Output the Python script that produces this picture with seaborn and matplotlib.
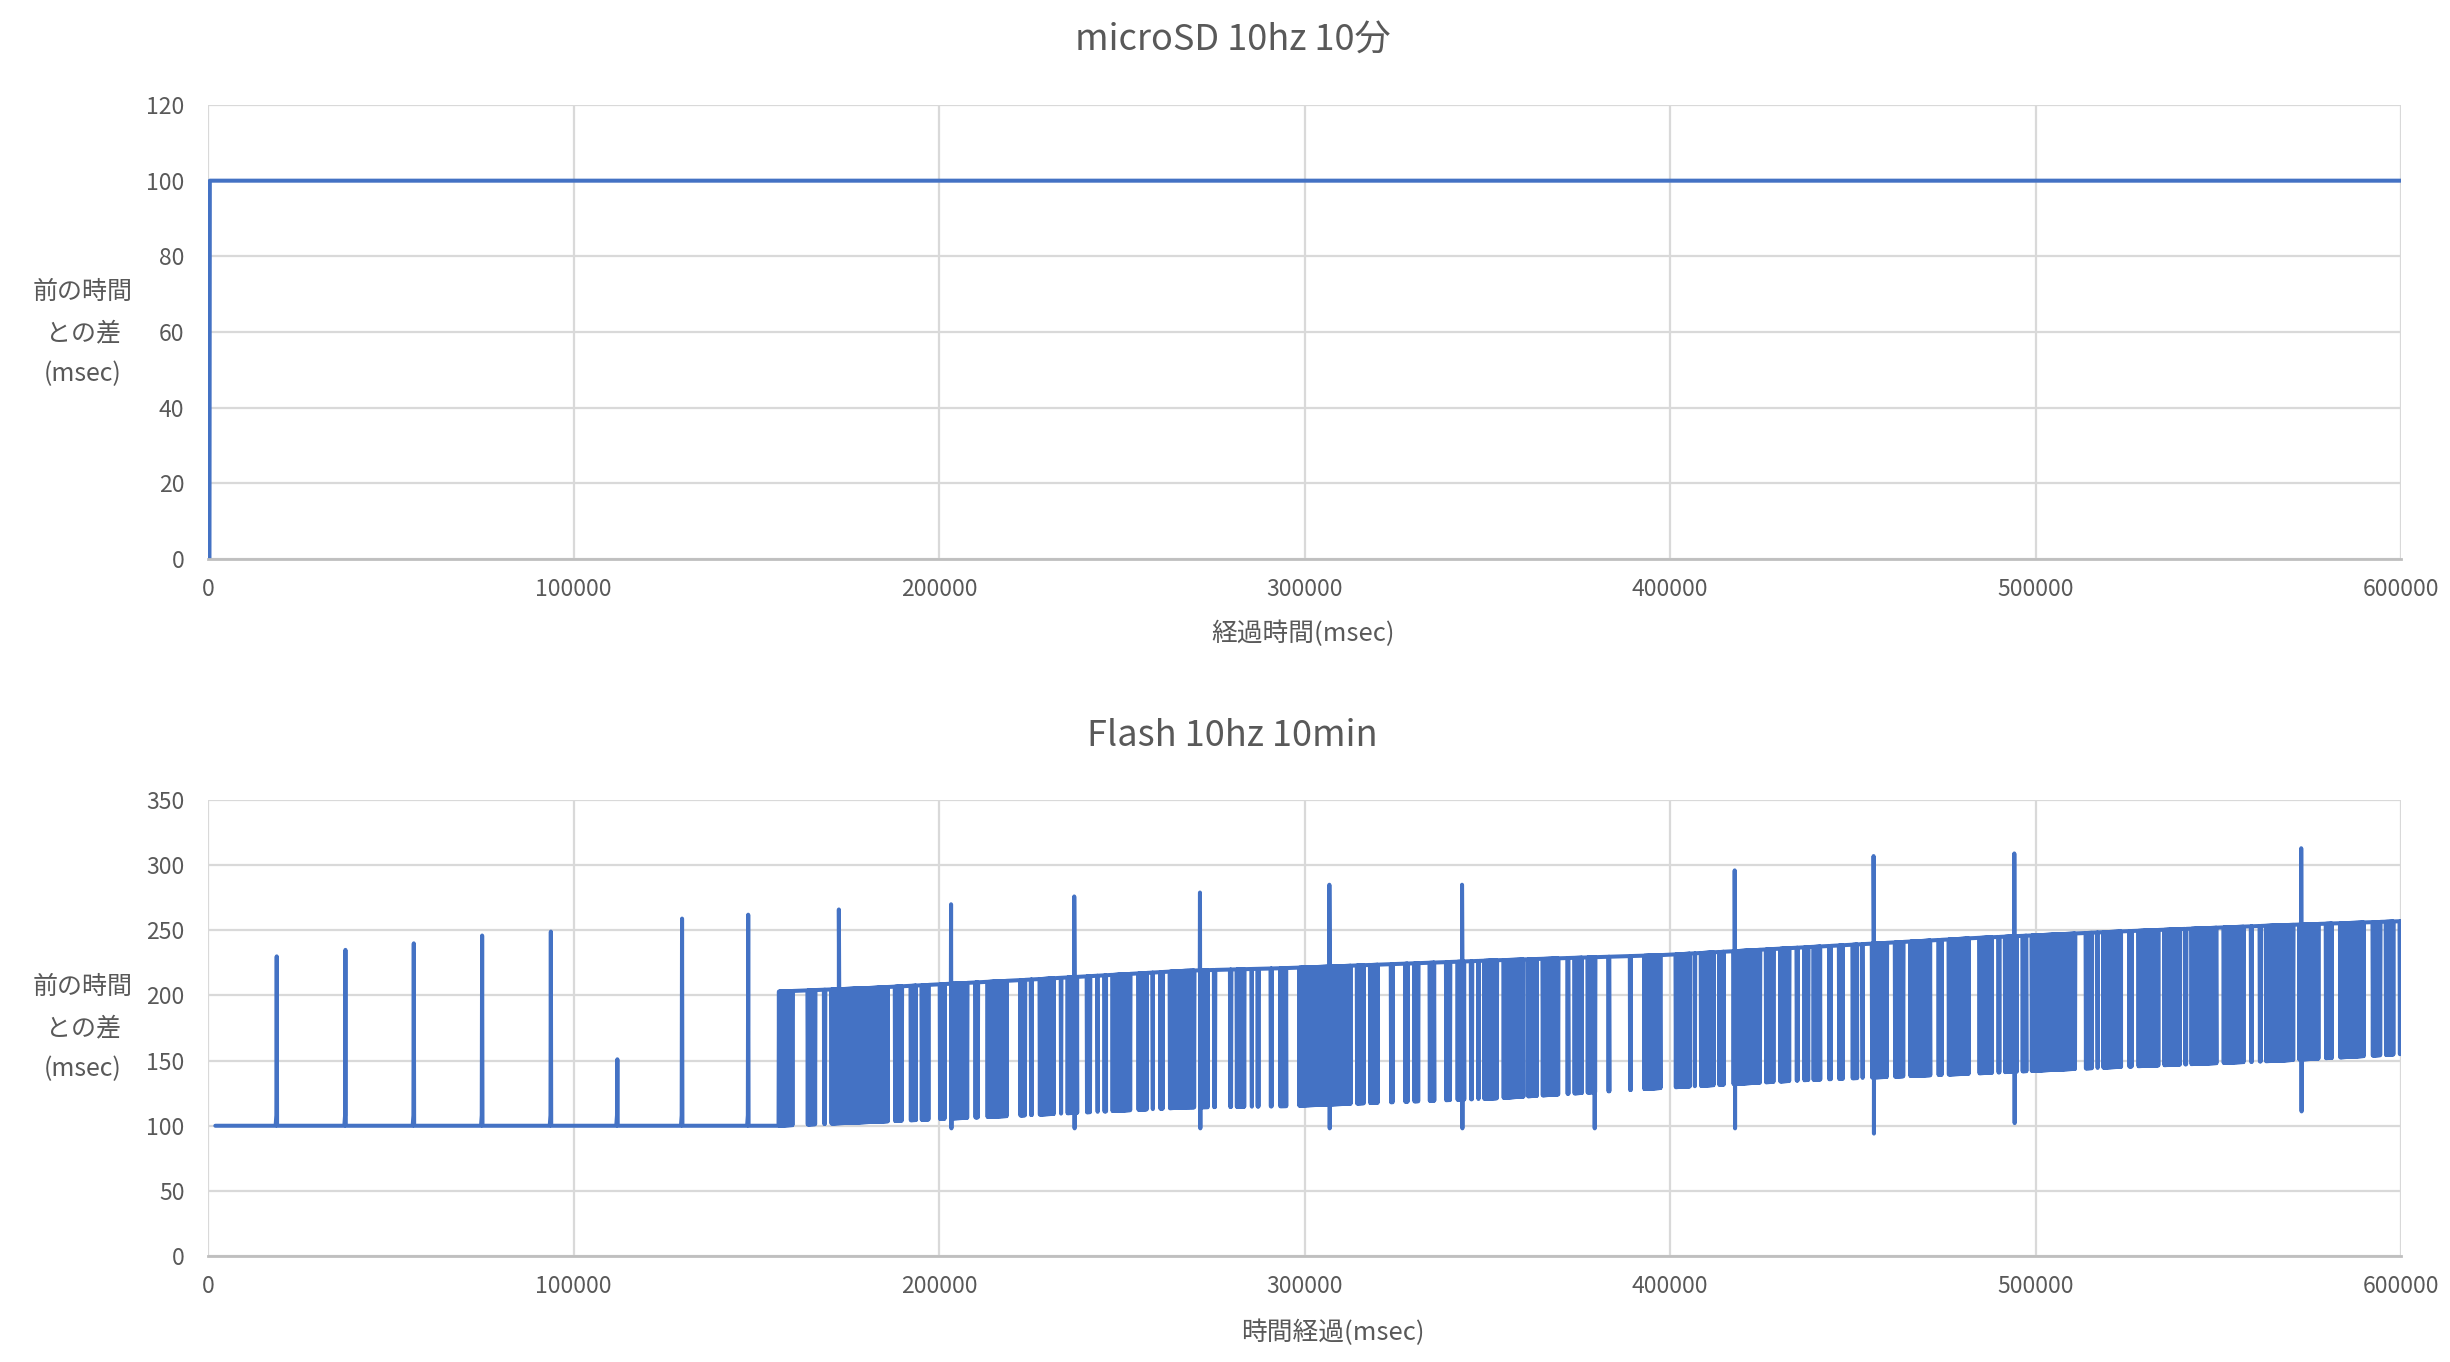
import numpy as np
import pandas as pd
import matplotlib
matplotlib.use("Agg")
import matplotlib.pyplot as plt
import seaborn as sns

# ---- microSD 10hz 10分 ----
sd_x = [400, 500, 599900]
sd_y = [0, 100, 100]

# ---- Flash 10hz 10min ----
# before ~156 s: flat 100 ms with a periodic spike
base_start = 2000
base_end = 156100
base_level = 100
early_spike_x = [18800, 37600, 56300, 75000, 93800, 112000, 129700, 147800]
early_spike_y = [230, 235, 240, 246, 249, 151, 259, 262]

# after ~156 s: the interval keeps flipping between an upper and a lower level
env_x = [156000, 182600, 223700, 267400, 294800, 352200, 397900, 437100, 482700, 521900, 567500, 600000]
env_hi = [203, 206, 212, 219, 221, 227, 231, 237, 244, 249, 254, 257]
env_lo = [100, 103, 108, 114, 115, 121, 129, 135, 140, 145, 150, 155]

# stretches where it flips (between them it stays on the upper level)
block_start = [156200, 163500, 168000, 170000, 187400, 191700, 194700, 199700, 203100, 209400,
               212700, 221700, 224600, 227000, 232800, 234600, 239900, 242800, 244700, 246900,
               254000, 257900, 260000, 262600, 271100, 274700, 279100, 280900, 285000, 286600,
               290200, 292800, 298000, 313800, 317400, 323100, 327000, 329500, 333700, 338200,
               341300, 345000, 347000, 348600, 353900, 360600, 364600, 371400, 373300, 376900,
               382600, 388500, 392400, 401000, 406200, 407900, 412900, 416800, 425700, 429600,
               434100, 436200, 438700, 443000, 445700, 449400, 452100, 454700, 461000, 465200,
               472900, 475700, 484100, 489300, 491100, 495900, 498400, 513200, 516400, 518000,
               525100, 527600, 534700, 540400, 542100, 550900, 558400, 560800, 562500, 571600,
               578900, 582800, 591700, 595300, 599100]
block_end = [160500, 166700, 169400, 186500, 190400, 194200, 197700, 202100, 208300, 211200,
             219100, 224100, 225900, 231900, 234000, 238300, 241900, 243900, 246200, 252900,
             257400, 259000, 261800, 270400, 274000, 276100, 280500, 284100, 286100, 288000,
             291600, 295500, 313100, 316700, 320500, 324700, 328700, 331700, 336000, 340400,
             344200, 346400, 348200, 353200, 360400, 364100, 370000, 372700, 376400, 380100,
             383900, 389800, 397900, 405900, 407400, 412500, 415200, 425200, 428900, 433200,
             435400, 438400, 441600, 444500, 447800, 451700, 453200, 459900, 464400, 471700,
             474900, 482200, 488600, 490700, 495400, 498000, 511400, 516000, 517500, 523900,
             526900, 534200, 540100, 541800, 550000, 557500, 559700, 562200, 571100, 578000,
             581600, 590300, 594900, 598500, 600000]

late_spike_x = [172600, 203300, 237000, 271400, 306800, 343100, 417700, 455700, 494200, 572700]
late_spike_y = [266, 270, 276, 279, 285, 285, 296, 307, 309, 313]
dip_x = [203400, 237100, 271500, 306900, 343200, 379400, 417800, 455800, 494300, 572800]
dip_y = [98, 98, 98, 98, 98, 98, 98, 94, 102, 111]

SAMPLE_MS = 100  # 10 Hz logging
EDGE = 500       # block edges above are the visible edges; the line centre sits half a line width inside

# build the flash series
px, py = [base_start, base_end], [base_level, base_level]
for x, y in zip(early_spike_x, early_spike_y):
    px += [x - 300, x - 100, x, x + 100]
    py += [base_level, base_level + 8, y, base_level]

for s, e in zip(block_start, block_end):
    s2 = s + EDGE if s > 157000 else s
    e2 = e - EDGE if e < 600000 else e
    if e2 <= s2:
        s2, e2 = (s + e) // 2 - 100, (s + e) // 2 + 100
    xs = np.arange(s2, e2 + 1, SAMPLE_MS)
    hi = np.interp(xs, env_x, env_hi)
    lo = np.interp(xs, env_x, env_lo)
    ys = np.where(np.arange(len(xs)) % 2 == 0, hi, lo)
    px += list(xs)
    py += list(ys)
    if len(xs) % 2 == 0:
        px.append(xs[-1])
        py.append(float(np.interp(xs[-1], env_x, env_hi)))

# single long / short intervals, entered from and left on the upper level
for x, y in zip(late_spike_x, late_spike_y):
    px += [x - 50, x]
    py += [float(np.interp(x, env_x, env_hi)), y]
for x, y in zip(dip_x, dip_y):
    px += [x, x + 50]
    py += [y, float(np.interp(x, env_x, env_hi))]

flash = pd.DataFrame({"t": px, "d": py})
flash = flash.sort_values("t", kind="stable").reset_index(drop=True)
sd = pd.DataFrame({"t": sd_x, "d": sd_y})

sns.set_theme(style="white")
plt.rcParams["font.family"] = ["Noto Sans CJK JP", "DejaVu Sans"]

LINE = "#4472C4"
TXT = "#595959"
GRID = "#D9D9D9"

fig = plt.figure(figsize=(24.5, 13.62), dpi=100)
ax1 = fig.add_axes([0.0849, 0.5896, 0.8951, 0.3333])
ax2 = fig.add_axes([0.0849, 0.0778, 0.8951, 0.3348])

sns.lineplot(data=sd, x="t", y="d", ax=ax1, color=LINE, lw=2.9,
             estimator=None, sort=False)
sns.lineplot(data=flash, x="t", y="d", ax=ax2, color=LINE, lw=2.9,
             estimator=None, sort=False)

for ax, ymax, ystep in [(ax1, 120, 20), (ax2, 350, 50)]:
    ax.set_xlim(0, 600000)
    ax.set_ylim(0, ymax)
    ax.set_xticks(np.arange(0, 600001, 100000))
    ax.set_yticks(np.arange(0, ymax + 1, ystep))
    ax.set_xticklabels([str(v) for v in range(0, 600001, 100000)])
    ax.grid(True, color=GRID, lw=1.6)
    ax.set_axisbelow(True)
    for sp in ["top", "right", "left"]:
        ax.spines[sp].set_visible(False)
    ax.spines["bottom"].set_color("#BFBFBF")
    ax.spines["bottom"].set_linewidth(2)
    ax.tick_params(axis="both", length=0, labelsize=16.5, labelcolor=TXT)
    ax.tick_params(axis="x", pad=14)
    ax.tick_params(axis="y", pad=17)
    ax.set_xlabel("")
    ax.set_ylabel("")

fig.text(0.503, 0.970, "microSD 10hz 10分", ha="center", va="center", fontsize=26, color=TXT)
fig.text(0.503, 0.4596, "Flash 10hz 10min", ha="center", va="center", fontsize=26, color=TXT)
fig.text(0.532, 0.5345, "経過時間(msec)", ha="center", va="center", fontsize=18.5, color=TXT)
fig.text(0.544, 0.0213, "時間経過(msec)", ha="center", va="center", fontsize=18.5, color=TXT)
for yc in [0.7555, 0.2452]:
    fig.text(0.0339, yc, "前の時間\nとの差\n(msec)", ha="center", va="center",
             fontsize=18, color=TXT, linespacing=1.75)

fig.savefig("out.png", dpi=100)
